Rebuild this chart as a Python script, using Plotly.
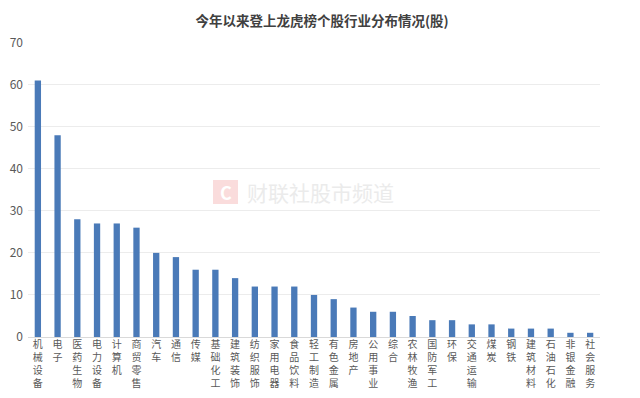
import plotly.graph_objects as go

categories = ["机械设备", "电子", "医药生物", "电力设备", "计算机", "商贸零售", "汽车", "通信", "传媒",
              "基础化工", "建筑装饰", "纺织服饰", "家用电器", "食品饮料", "轻工制造", "有色金属", "房地产",
              "公用事业", "综合", "农林牧渔", "国防军工", "环保", "交通运输", "煤炭", "钢铁", "建筑材料",
              "石油石化", "非银金融", "社会服务"]
values = [61, 48, 28, 27, 27, 26, 20, 19, 16, 16, 14, 12, 12, 12, 10, 9, 7, 6, 6, 5, 4, 4, 3, 3, 2, 2, 2, 1, 1]
y_ticks = [0, 10, 20, 30, 40, 50, 60, 70]
title_text = "今年以来登上龙虎榜个股行业分布情况(股)"

vertical_labels = ["<br>".join(list(c)) for c in categories]

font_family = "Noto Sans CJK SC, Noto Sans, sans-serif"

fig = go.Figure(go.Bar(
    x=categories,
    y=values,
    marker=dict(color="#4a7ab8", line=dict(width=0)),
    width=0.32,
))

fig.update_layout(
    width=632, height=390,
    margin=dict(l=20, r=40, t=34, b=61),
    paper_bgcolor="white", plot_bgcolor="white",
    showlegend=False,
    font=dict(family=font_family, color="#595959"),
    title=dict(text="<b>" + title_text + "</b>", x=(322 - 8) / 632, xanchor="center", y=0.978, yanchor="top",
               font=dict(size=13.5, color="#404040", family=font_family)),
    bargap=0.7,
)

fig.update_xaxes(
    tickmode="array", tickvals=categories, ticktext=vertical_labels,
    tickangle=0, tickfont=dict(size=10, color="#595959"),
    showgrid=False, showline=False, ticks="", zeroline=False, automargin=False,
)
fig.update_yaxes(
    range=[0, 70.15], tickmode="array", tickvals=y_ticks,
    tickfont=dict(size=12, color="#595959"),
    showgrid=True, gridcolor="#ececec", gridwidth=1,
    zeroline=True, zerolinecolor="#d9d9d9", zerolinewidth=1,
    showline=False, ticks="", ticklabelstandoff=4, automargin=False,
)

# watermark
fig.add_shape(type="rect", xref="paper", yref="paper", x0=(213 - 28) / 572, x1=(238 - 28) / 572,
              y0=(337 - 204) / 295, y1=(337 - 180) / 295,
              fillcolor="#fadcdc", line=dict(width=0), layer="below")
fig.add_annotation(x=(225.5 - 28) / 572, y=(337 - 192) / 295, xref="paper", yref="paper",
                   text="<b>C</b>", showarrow=False, font=dict(size=18, color="#ffffff", family=font_family))
fig.add_annotation(x=(245 - 28) / 572, y=(337 - 192) / 295, xref="paper", yref="paper", xanchor="left",
                   text="财联社股市频道", showarrow=False,
                   font=dict(size=21, color="#ebebeb", family=font_family))

fig.write_html("out.html")
